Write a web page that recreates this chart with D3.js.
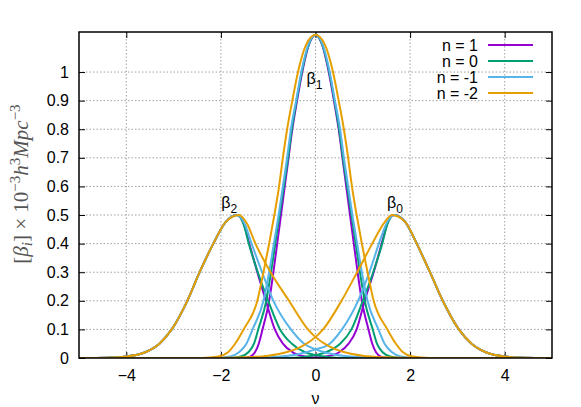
<!DOCTYPE html>
<html>
<head>
<meta charset="utf-8">
<script src="https://cdn.jsdelivr.net/npm/d3@7"></script>
<style>
  body { margin: 0; background: #fff; }
  svg { display: block; font-family: "Liberation Sans", Arial, sans-serif; }
  .grid line { stroke: #a0a0a0; stroke-width: 1; stroke-dasharray: 1.5, 2; }
  .tick-label { font-size: 16px; fill: #000; }
  .curve { fill: none; stroke-width: 2; }
</style>
</head>
<body>
<svg id="chart" width="581" height="407"></svg>
<script>
// values: [nu, beta] pairs per curve
const xTickValues = [-4, -2, 0, 2, 4];
const yTickValues = [0, 0.1, 0.2, 0.3, 0.4, 0.5, 0.6, 0.7, 0.8, 0.9, 1];
const seriesLabels = ["n = 1", "n = 0", "n = -1", "n = -2"];

// beta_2 (left bump), shared outer flank
const beta2Outer = [[-5, 0], [-4.4, 0.001], [-4, 0.005], [-3.6, 0.02], [-3.3, 0.05], [-3.04, 0.1], [-2.71, 0.2], [-2.45, 0.3], [-2.16, 0.4], [-1.9, 0.475]];
const beta2_n1 = [[-1.66, 0.5], [-1.52, 0.47], [-1.4, 0.4], [-1.23, 0.3], [-1.05, 0.2], [-0.86, 0.1], [-0.69, 0.05], [-0.48, 0.02], [-0.22, 0.005], [0.1, 0], [5, 0]];
const beta2_n0 = [[-1.66, 0.5], [-1.52, 0.468], [-1.41, 0.4], [-1.22, 0.3], [-1.0, 0.2], [-0.75, 0.1], [-0.5, 0.05], [-0.22, 0.02], [0, 0.01], [0.3, 0.003], [0.7, 0], [5, 0]];
const beta2_nm1 = [[-1.66, 0.5], [-1.5, 0.47], [-1.35, 0.4], [-1.13, 0.3], [-0.89, 0.2], [-0.52, 0.1], [-0.24, 0.05], [0, 0.03], [0.4, 0.012], [0.8, 0.004], [1.4, 0], [5, 0]];
const beta2_nm2 = [[-1.62, 0.5], [-1.45, 0.47], [-1.27, 0.4], [-0.95, 0.3], [-0.56, 0.2], [-0.16, 0.1], [0, 0.073], [0.3, 0.04], [0.6, 0.021], [1, 0.008], [1.5, 0.0025], [2.2, 0], [5, 0]];

// beta_1 (central bump)
const beta1_n1 = [[-5, 0], [-1.55, 0], [-1.38, 0.005], [-1.28, 0.02], [-1.2, 0.05], [-1.12, 0.1], [-0.98, 0.2], [-0.89, 0.3], [-0.81, 0.4], [-0.73, 0.5], [-0.65, 0.6], [-0.57, 0.7], [-0.49, 0.8], [-0.39, 0.9], [-0.28, 1.0], [-0.15, 1.09], [0, 1.13],
  [0.15, 1.09], [0.28, 1.0], [0.39, 0.9], [0.49, 0.8], [0.57, 0.7], [0.65, 0.6], [0.73, 0.5], [0.81, 0.4], [0.89, 0.3], [0.98, 0.2], [1.12, 0.1], [1.2, 0.05], [1.28, 0.02], [1.38, 0.005], [1.55, 0], [5, 0]];
const beta1_n0 = [[-5, 0], [-1.8, 0], [-1.58, 0.005], [-1.42, 0.02], [-1.3, 0.05], [-1.21, 0.1], [-1.04, 0.2], [-0.94, 0.3], [-0.85, 0.4], [-0.76, 0.5], [-0.67, 0.6], [-0.58, 0.7], [-0.5, 0.8], [-0.4, 0.9], [-0.29, 1.0], [-0.15, 1.092], [0, 1.13],
  [0.15, 1.092], [0.29, 1.0], [0.4, 0.9], [0.5, 0.8], [0.58, 0.7], [0.67, 0.6], [0.76, 0.5], [0.85, 0.4], [0.94, 0.3], [1.04, 0.2], [1.21, 0.1], [1.3, 0.05], [1.42, 0.02], [1.58, 0.005], [1.8, 0], [5, 0]];
const beta1_nm1 = [[-5, 0], [-2.1, 0], [-1.8, 0.005], [-1.62, 0.02], [-1.46, 0.05], [-1.33, 0.1], [-1.1, 0.2], [-0.98, 0.3], [-0.88, 0.4], [-0.78, 0.5], [-0.69, 0.6], [-0.6, 0.7], [-0.52, 0.8], [-0.41, 0.9], [-0.3, 1.0], [-0.16, 1.092], [0, 1.13],
  [0.16, 1.092], [0.3, 1.0], [0.41, 0.9], [0.52, 0.8], [0.6, 0.7], [0.69, 0.6], [0.78, 0.5], [0.88, 0.4], [0.98, 0.3], [1.1, 0.2], [1.33, 0.1], [1.46, 0.05], [1.62, 0.02], [1.8, 0.005], [2.1, 0], [5, 0]];
const beta1_nm2 = [[-5, 0], [-2.4, 0], [-2.05, 0.005], [-1.85, 0.02], [-1.7, 0.05], [-1.52, 0.1], [-1.23, 0.2], [-1.1, 0.3], [-0.98, 0.4], [-0.87, 0.5], [-0.77, 0.6], [-0.69, 0.7], [-0.6, 0.8], [-0.49, 0.9], [-0.37, 1.0], [-0.2, 1.095], [0, 1.13],
  [0.2, 1.095], [0.37, 1.0], [0.49, 0.9], [0.6, 0.8], [0.69, 0.7], [0.77, 0.6], [0.87, 0.5], [0.98, 0.4], [1.1, 0.3], [1.23, 0.2], [1.52, 0.1], [1.7, 0.05], [1.85, 0.02], [2.05, 0.005], [2.4, 0], [5, 0]];

// beta_0 (right bump), shared outer flank
const beta0Outer = [[1.9, 0.475], [2.14, 0.4], [2.42, 0.3], [2.69, 0.2], [3.03, 0.1], [3.3, 0.05], [3.6, 0.02], [4, 0.005], [4.4, 0.001], [5, 0]];
const beta0_n1 = [[-5, 0], [-0.1, 0], [0.22, 0.005], [0.5, 0.02], [0.7, 0.05], [0.87, 0.1], [1.04, 0.2], [1.23, 0.3], [1.4, 0.4], [1.52, 0.47], [1.66, 0.5]];
const beta0_n0 = [[-5, 0], [-0.7, 0], [-0.3, 0.003], [0, 0.01], [0.22, 0.02], [0.52, 0.05], [0.76, 0.1], [1.0, 0.2], [1.22, 0.3], [1.41, 0.4], [1.52, 0.468], [1.66, 0.5]];
const beta0_nm1 = [[-5, 0], [-1.4, 0], [-0.8, 0.004], [-0.4, 0.012], [0, 0.03], [0.3, 0.05], [0.56, 0.1], [0.9, 0.2], [1.14, 0.3], [1.34, 0.4], [1.5, 0.47], [1.66, 0.5]];
const beta0_nm2 = [[-5, 0], [-2.2, 0], [-1.5, 0.0025], [-1, 0.008], [-0.6, 0.021], [-0.3, 0.04], [0, 0.073], [0.16, 0.1], [0.55, 0.2], [0.88, 0.3], [1.2, 0.4], [1.44, 0.47], [1.62, 0.5]];

const seriesColors = ["#9400d3", "#009e73", "#56b4e9", "#e69f00"];

const series = [
  { label: seriesLabels[0], curves: [beta0_n1.concat(beta0Outer), beta1_n1, beta2Outer.concat(beta2_n1)] },
  { label: seriesLabels[1], curves: [beta0_n0.concat(beta0Outer), beta1_n0, beta2Outer.concat(beta2_n0)] },
  { label: seriesLabels[2], curves: [beta0_nm1.concat(beta0Outer), beta1_nm1, beta2Outer.concat(beta2_nm1)] },
  { label: seriesLabels[3], curves: [beta0_nm2.concat(beta0Outer), beta1_nm2, beta2Outer.concat(beta2_nm2)] },
];

// peak annotations (beta with subscript)
const peakLabels = [
  { sub: "2", nu: -1.99, v: 0.524 },
  { sub: "1", nu: -0.19, v: 0.958 },
  { sub: "0", nu: 1.51, v: 0.524 },
];

const svg = d3.select("#chart");
const margin = { top: 32, right: 29, bottom: 49, left: 79 };
const width = 581 - margin.left - margin.right;
const height = 407 - margin.top - margin.bottom;

const x = d3.scaleLinear().domain([-5, 5]).range([0, width]);
const y = d3.scaleLinear().domain([0, 1.14]).range([height, 0]);

const g = svg.append("g").attr("transform", `translate(${margin.left}, ${margin.top})`);

// dotted grid
const grid = g.append("g").attr("class", "grid");
grid.selectAll("line.gx")
  .data(xTickValues)
  .enter()
  .append("line")
  .attr("x1", (d) => x(d)).attr("x2", (d) => x(d))
  .attr("y1", 0).attr("y2", height);
grid.selectAll("line.gy")
  .data(yTickValues.filter((d) => d > 0))
  .enter()
  .append("line")
  .attr("x1", 0).attr("x2", width)
  .attr("y1", (d) => y(d)).attr("y2", (d) => y(d));

// axes: labels outside, ticks pointing inward, mirrored on top/right
const tickLen = 6;
g.append("g")
  .attr("transform", `translate(0, ${height})`)
  .call(d3.axisBottom(x).tickValues(xTickValues).tickSize(-tickLen).tickPadding(12).tickFormat(d3.format("d")))
  .call((a) => a.select(".domain").remove())
  .call((a) => a.selectAll("text").attr("class", "tick-label").attr("font-family", null).attr("font-size", null));
g.append("g")
  .call(d3.axisLeft(y).tickValues(yTickValues).tickSize(-tickLen).tickPadding(10).tickFormat((d) => d3.format("")(+d.toFixed(1))))
  .call((a) => a.select(".domain").remove())
  .call((a) => a.selectAll("text").attr("class", "tick-label").attr("font-family", null).attr("font-size", null));
g.append("g")
  .call(d3.axisTop(x).tickValues(xTickValues).tickSize(-tickLen).tickFormat(""))
  .call((a) => a.select(".domain").remove());
g.append("g")
  .attr("transform", `translate(${width}, 0)`)
  .call(d3.axisRight(y).tickValues(yTickValues).tickSize(-tickLen).tickFormat(""))
  .call((a) => a.select(".domain").remove());
g.selectAll(".tick line").attr("stroke", "#000");

// curves
g.append("clipPath").attr("id", "plot-clip")
  .append("rect").attr("width", width).attr("height", height);

const line = d3.line()
  .x((d) => x(d[0]))
  .y((d) => y(d[1]))
  .curve(d3.curveMonotoneX);

const curveLayer = g.append("g").attr("clip-path", "url(#plot-clip)");
series.forEach((s, i) => {
  curveLayer.selectAll(null)
    .data(s.curves)
    .enter()
    .append("path")
    .attr("class", "curve")
    .attr("stroke", seriesColors[i])
    .attr("d", line);
});

// border
g.append("rect")
  .attr("width", width).attr("height", height)
  .attr("fill", "none").attr("stroke", "#000").attr("stroke-width", 1.5);

// peak labels
const pl = g.selectAll("text.peak")
  .data(peakLabels)
  .enter()
  .append("text")
  .attr("class", "peak")
  .attr("x", (d) => x(d.nu))
  .attr("y", (d) => y(d.v))
  .attr("font-size", 16);
pl.append("tspan").text("β");
pl.append("tspan").attr("dy", 5).attr("font-size", 12).text((d) => d.sub);

// legend
const legend = svg.append("g").attr("transform", "translate(478, 45)");
const rows = legend.selectAll("g")
  .data(series)
  .enter()
  .append("g")
  .attr("transform", (d, i) => `translate(0, ${i * 16})`);
rows.append("text")
  .attr("class", "tick-label")
  .attr("text-anchor", "end")
  .attr("dy", "0.36em")
  .text((d) => d.label);
rows.append("line")
  .attr("x1", 10).attr("x2", 55)
  .attr("stroke-width", 2)
  .attr("stroke", (d, i) => seriesColors[i]);

// axis titles
svg.append("text")
  .attr("x", margin.left + x(0))
  .attr("y", 404)
  .attr("text-anchor", "middle")
  .attr("class", "tick-label")
  .text("ν");

const yTitle = svg.append("text")
  .attr("transform", "translate(28, 184) rotate(-90)")
  .attr("text-anchor", "middle")
  .attr("font-family", "'Liberation Serif', 'DejaVu Serif', serif")
  .attr("font-size", 21)
  .attr("fill", "#555");
yTitle.append("tspan").text("[");
yTitle.append("tspan").attr("font-style", "italic").text("β");
yTitle.append("tspan").attr("font-style", "italic").attr("font-size", 15).attr("dy", 4).text("i");
yTitle.append("tspan").attr("dy", -4).text("] × 10");
yTitle.append("tspan").attr("font-size", 15).attr("dy", -8).text("−3");
yTitle.append("tspan").attr("dy", 8).attr("font-style", "italic").text("h");
yTitle.append("tspan").attr("font-size", 15).attr("dy", -8).text("3");
yTitle.append("tspan").attr("dy", 8).attr("font-style", "italic").text("Mpc");
yTitle.append("tspan").attr("font-size", 15).attr("dy", -8).text("−3");
</script>
</body>
</html>
